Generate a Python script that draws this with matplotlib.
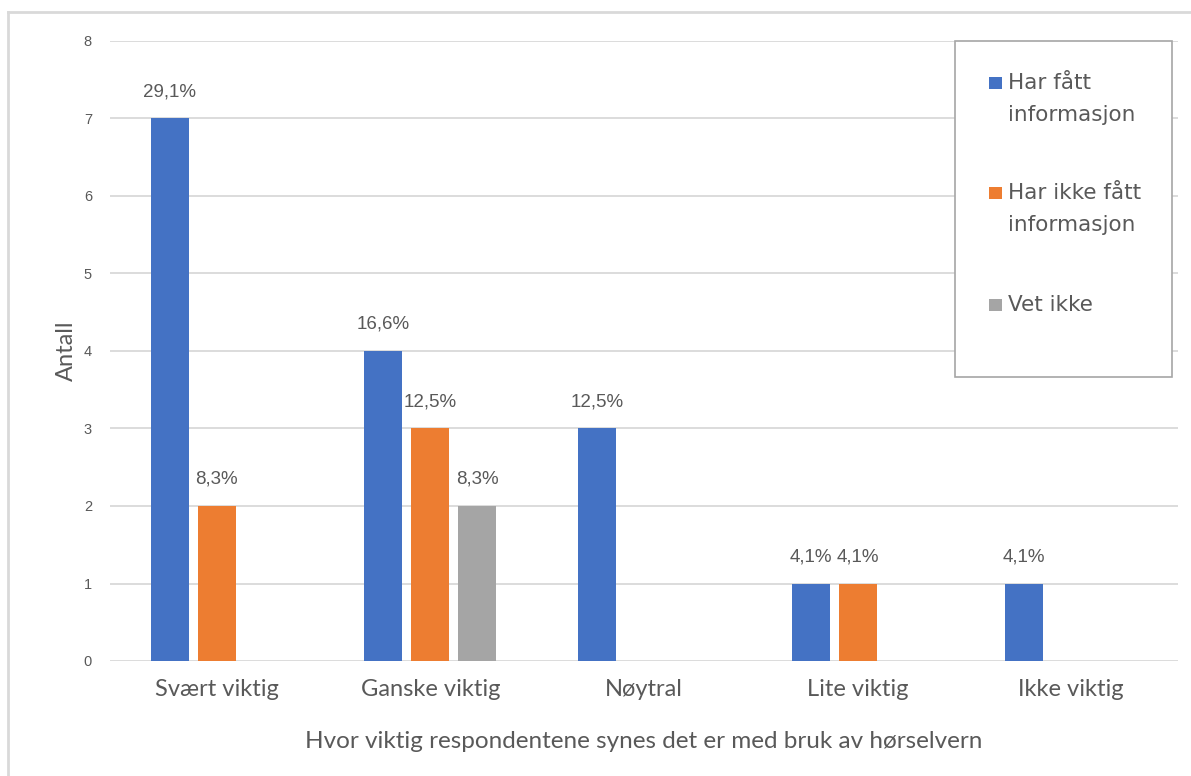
import matplotlib.pyplot as plt
import numpy as np
from matplotlib.lines import Line2D
from matplotlib.patches import Rectangle

categories = ["Svært viktig", "Ganske viktig", "Nøytral", "Lite viktig", "Ikke viktig"]
series_names = ["Har fått\ninformasjon", "Har ikke fått\ninformasjon", "Vet ikke"]
har_fatt = [7, 4, 3, 1, 1]
har_ikke_fatt = [2, 3, 0, 1, 0]
vet_ikke = [0, 2, 0, 0, 0]
labels_har_fatt = ["29,1%", "16,6%", "12,5%", "4,1%", "4,1%"]
labels_har_ikke = ["8,3%", "12,5%", "", "4,1%", ""]
labels_vet_ikke = ["", "8,3%", "", "", ""]

colors = ["#4472C4", "#ED7D31", "#A5A5A5"]
txt = "#595959"
W, H = 1191, 776


def fx(px):
    return px / W


def fy(py):
    return 1 - py / H


fig = plt.figure(figsize=(W / 100, H / 100), dpi=100)
ax = fig.add_axes([fx(110), fy(661), 1068 / W, 620 / H])

x = np.arange(len(categories))
width = 0.178
step = 0.22
all_vals = [har_fatt, har_ikke_fatt, vet_ikke]
all_labels = [labels_har_fatt, labels_har_ikke, labels_vet_ikke]
for i, (vals, labs) in enumerate(zip(all_vals, all_labels)):
    pos = x + (i - 1) * step
    bars = ax.bar(pos, vals, width, color=colors[i], zorder=3)
    ax.bar_label(bars, labels=labs, padding=13, fontsize=13.5, color=txt,
                 family="Liberation Sans")

ax.set_xlim(-0.5, len(categories) - 0.5)
ax.set_ylim(0, 8)
ax.set_yticks(range(0, 9))
ax.yaxis.grid(True, color="#d9d9d9", linewidth=1.3, zorder=0)
for s in ax.spines.values():
    s.set_visible(False)
ax.tick_params(axis="both", length=0, colors=txt)
ax.tick_params(axis="y", labelsize=10.5, pad=13)
ax.set_yticklabels([str(v) for v in range(9)], family="Liberation Sans")
ax.set_xticks(x)
ax.set_xticklabels(categories, fontsize=17, family="Lato", color=txt)
ax.tick_params(axis="x", pad=13)
ax.set_xlabel("Hvor viktig respondentene synes det er med bruk av hørselvern",
              fontsize=17.5, family="Lato", color=txt, labelpad=22)
ax.set_ylabel("Antall", fontsize=17, family="Lato", color=txt, labelpad=5)

# legend box, drawn by hand so the swatch sits on the first text line
fig.add_artist(Rectangle((fx(955), fy(377)), 217 / W, 336 / H,
                         transform=fig.transFigure, facecolor="white",
                         edgecolor="#a6a6a6", linewidth=1.2, zorder=5))
first_line_y = [83, 193, 305]
for name, color, py in zip(series_names, colors, first_line_y):
    fig.add_artist(Rectangle((fx(989), fy(py + 6)), 13 / W, 12 / H,
                             transform=fig.transFigure, facecolor=color,
                             edgecolor="none", zorder=6))
    for k, line in enumerate(name.split("\n")):
        fig.text(fx(1008), fy(py + 32 * k), line, fontsize=15.5,
                 family="DejaVu Sans", color=txt, va="center", ha="left",
                 zorder=6)

# outer chart border (left and top)
fig.add_artist(Line2D([fx(8), fx(8)], [0, fy(12)],
                      transform=fig.transFigure, color="#d9d9d9", linewidth=2))
fig.add_artist(Line2D([fx(8), 1], [fy(12), fy(12)],
                      transform=fig.transFigure, color="#d9d9d9", linewidth=2))

fig.savefig("out.png", dpi=100)
